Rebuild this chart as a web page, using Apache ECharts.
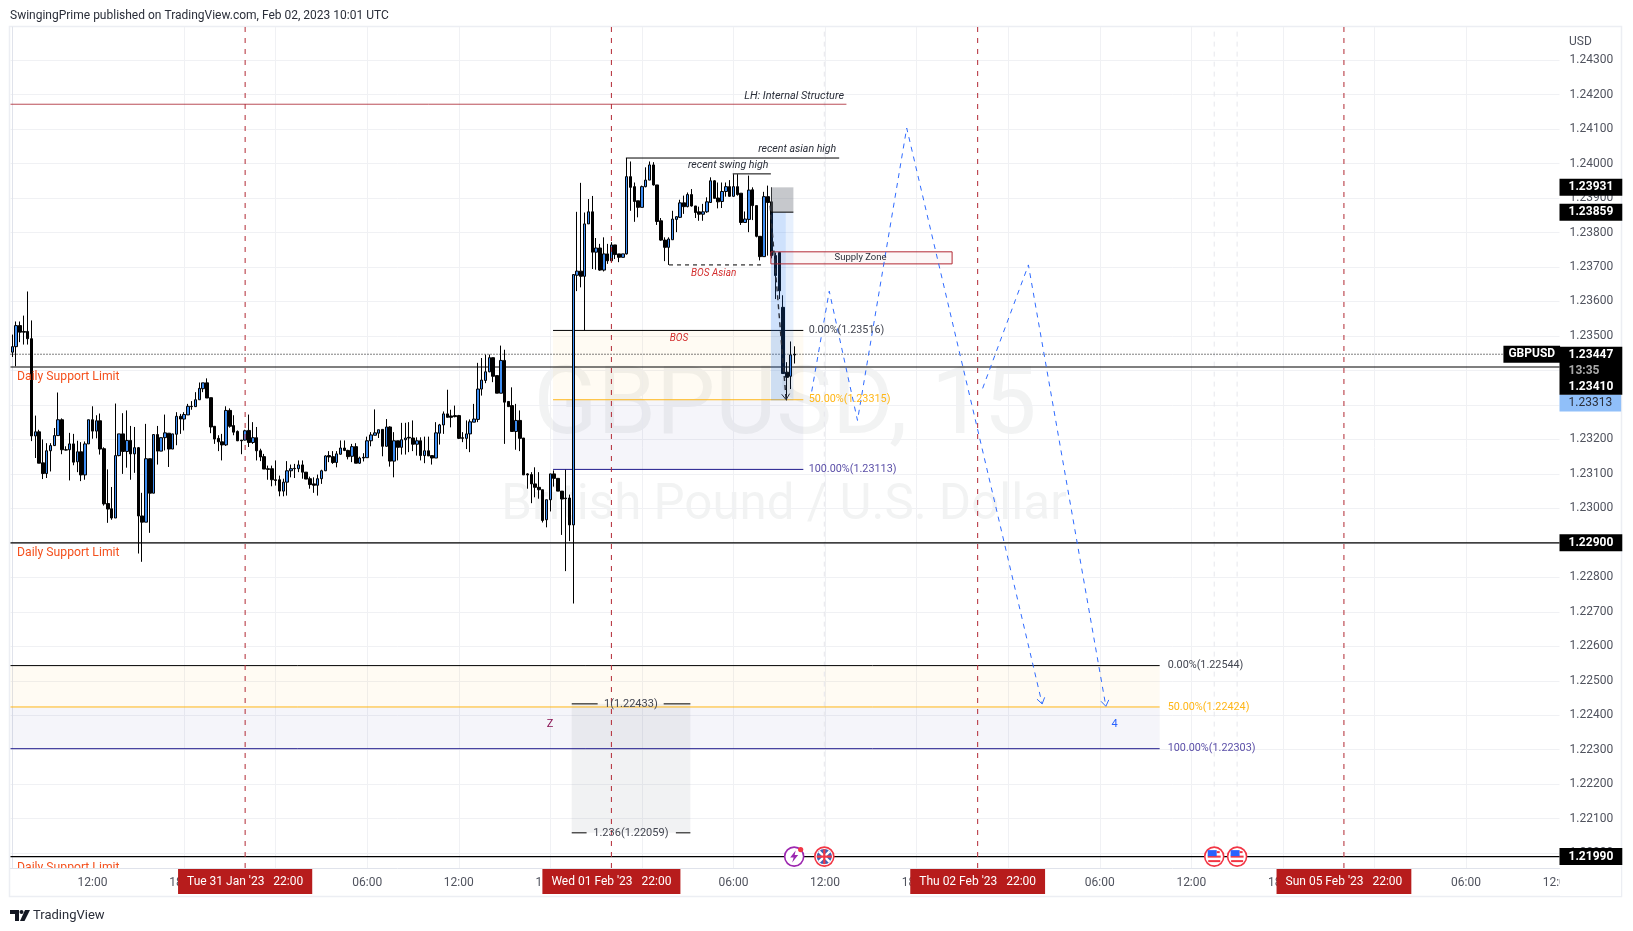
<!DOCTYPE html>
<html><head><meta charset="utf-8">
<style>html,body{margin:0;padding:0;background:#fff}#c{width:1633px;height:931px}</style>
<script src="https://cdn.jsdelivr.net/npm/echarts@6/dist/echarts.min.js"></script>
</head><body><div id="c"></div>
<script>
// ---- candle values, GBPUSD 15m (oldest first) ----
const opens = [1.23453,1.23469,1.23530,1.23513,1.23513,1.23492,1.23210,1.23222,1.23132,1.23101,
1.23167,1.23182,1.23211,1.23257,1.23170,1.23170,1.23187,1.23135,1.23164,1.23097,
1.23187,1.23257,1.23224,1.23254,1.23173,1.23014,1.22999,1.22972,1.23153,1.23216,
1.23165,1.23197,1.23158,1.23176,1.22978,1.22960,1.23144,1.23044,1.23214,1.23166,
1.23205,1.23218,1.23172,1.23215,1.23267,1.23259,1.23271,1.23296,1.23295,1.23315,
1.23347,1.23364,1.23321,1.23238,1.23203,1.23193,1.23184,1.23284,1.23240,1.23223,
1.23198,1.23198,1.23226,1.23191,1.23205,1.23167,1.23150,1.23115,1.23115,1.23083,
1.23083,1.23050,1.23076,1.23109,1.23116,1.23115,1.23126,1.23105,1.23086,1.23071,
1.23067,1.23086,1.23109,1.23153,1.23150,1.23133,1.23157,1.23175,1.23168,1.23151,
1.23179,1.23131,1.23148,1.23147,1.23196,1.23212,1.23218,1.23229,1.23180,1.23236,
1.23137,1.23196,1.23177,1.23199,1.23206,1.23204,1.23186,1.23196,1.23153,1.23167,
1.23153,1.23146,1.23218,1.23242,1.23274,1.23268,1.23269,1.23269,1.23205,1.23203,
1.23216,1.23250,1.23258,1.23346,1.23371,1.23396,1.23437,1.23385,1.23334,1.23429,
1.23310,1.23298,1.23223,1.23255,1.23204,1.23100,1.23098,1.23071,1.23061,1.23054,
1.22967,1.23025,1.23100,1.23087,1.23050,1.23030,1.23030,1.22952,1.23676,1.23688,
1.23673,1.23825,1.23860,1.23743,1.23755,1.23691,1.23738,1.23718,1.23764,1.23738,
1.23728,1.23738,1.23962,1.23933,1.23892,1.23873,1.23933,1.23952,1.23996,1.23938,
1.23834,1.23778,1.23757,1.23779,1.23838,1.23844,1.23886,1.23875,1.23910,1.23877,
1.23860,1.23853,1.23860,1.23887,1.23950,1.23900,1.23890,1.23919,1.23933,1.23905,
1.23933,1.23914,1.23829,1.23838,1.23924,1.23878,1.23789,1.23730,1.23904,1.23889,
1.23733,1.23742,1.23583,1.23395,1.23383,1.23445];
const closes = [1.23469,1.23530,1.23511,1.23511,1.23492,1.23210,1.23222,1.23131,1.23101,1.23167,
1.23182,1.23211,1.23257,1.23170,1.23169,1.23187,1.23134,1.23164,1.23097,1.23187,
1.23257,1.23224,1.23254,1.23172,1.23013,1.22998,1.22972,1.23153,1.23216,1.23165,
1.23197,1.23158,1.23176,1.22978,1.22960,1.23144,1.23044,1.23214,1.23166,1.23205,
1.23219,1.23172,1.23216,1.23267,1.23259,1.23272,1.23296,1.23295,1.23315,1.23348,
1.23364,1.23320,1.23236,1.23201,1.23193,1.23184,1.23284,1.23238,1.23221,1.23196,
1.23196,1.23225,1.23191,1.23205,1.23167,1.23149,1.23114,1.23113,1.23083,1.23081,
1.23050,1.23076,1.23109,1.23115,1.23115,1.23126,1.23105,1.23085,1.23069,1.23067,
1.23086,1.23109,1.23152,1.23149,1.23133,1.23158,1.23175,1.23168,1.23150,1.23179,
1.23131,1.23146,1.23146,1.23196,1.23213,1.23219,1.23228,1.23180,1.23236,1.23137,
1.23196,1.23177,1.23199,1.23204,1.23204,1.23186,1.23196,1.23153,1.23167,1.23152,
1.23146,1.23219,1.23242,1.23274,1.23264,1.23264,1.23266,1.23203,1.23203,1.23216,
1.23251,1.23259,1.23346,1.23372,1.23396,1.23437,1.23383,1.23334,1.23429,1.23308,
1.23295,1.23223,1.23255,1.23203,1.23097,1.23097,1.23071,1.23061,1.23054,1.22965,
1.23025,1.23100,1.23087,1.23050,1.23027,1.23028,1.22952,1.23678,1.23688,1.23673,
1.23825,1.23860,1.23743,1.23755,1.23691,1.23738,1.23718,1.23764,1.23736,1.23728,
1.23738,1.23962,1.23931,1.23890,1.23873,1.23933,1.23952,1.23996,1.23938,1.23832,
1.23778,1.23757,1.23781,1.23839,1.23846,1.23886,1.23875,1.23910,1.23877,1.23858,
1.23853,1.23860,1.23889,1.23950,1.23899,1.23889,1.23919,1.23933,1.23905,1.23933,
1.23910,1.23829,1.23839,1.23923,1.23878,1.23789,1.23730,1.23904,1.23887,1.23733,
1.23675,1.23631,1.23391,1.23380,1.23445,1.23447];
const lows = [1.23439,1.23412,1.23482,1.23475,1.23475,1.23195,1.23146,1.23131,1.23085,1.23088,
1.23107,1.23181,1.23210,1.23157,1.23168,1.23081,1.23125,1.23105,1.23079,1.23083,
1.23187,1.23202,1.23203,1.23156,1.23008,1.22958,1.22967,1.22972,1.23151,1.23100,
1.23118,1.23083,1.23103,1.22869,1.22845,1.22960,1.22929,1.23044,1.23127,1.23166,
1.23168,1.23120,1.23172,1.23183,1.23216,1.23226,1.23271,1.23286,1.23294,1.23315,
1.23337,1.23320,1.23218,1.23187,1.23166,1.23139,1.23181,1.23234,1.23212,1.23195,
1.23157,1.23197,1.23178,1.23187,1.23139,1.23137,1.23114,1.23083,1.23064,1.23066,
1.23035,1.23035,1.23037,1.23090,1.23088,1.23105,1.23086,1.23085,1.23057,1.23045,
1.23037,1.23071,1.23108,1.23134,1.23129,1.23119,1.23156,1.23166,1.23142,1.23134,
1.23131,1.23129,1.23136,1.23147,1.23180,1.23212,1.23204,1.23151,1.23179,1.23121,
1.23090,1.23139,1.23156,1.23156,1.23163,1.23166,1.23153,1.23139,1.23131,1.23152,
1.23127,1.23146,1.23185,1.23216,1.23264,1.23235,1.23264,1.23201,1.23192,1.23172,
1.23163,1.23250,1.23250,1.23327,1.23363,1.23395,1.23366,1.23334,1.23334,1.23187,
1.23295,1.23223,1.23170,1.23166,1.23097,1.23057,1.23015,1.23032,1.23028,1.22959,
1.22945,1.22991,1.23063,1.23050,1.22923,1.22818,1.22905,1.22724,1.23630,1.23641,
1.23516,1.23825,1.23694,1.23692,1.23689,1.23687,1.23709,1.23714,1.23723,1.23714,
1.23728,1.23736,1.23863,1.23831,1.23844,1.23873,1.23931,1.23952,1.23936,1.23822,
1.23776,1.23717,1.23706,1.23779,1.23801,1.23842,1.23854,1.23873,1.23875,1.23842,
1.23834,1.23834,1.23857,1.23887,1.23899,1.23870,1.23871,1.23904,1.23904,1.23904,
1.23907,1.23822,1.23829,1.23801,1.23836,1.23786,1.23719,1.23730,1.23733,1.23725,
1.23607,1.23607,1.23391,1.23313,1.23346,1.23420];
const highs = [1.23504,1.23542,1.23542,1.23559,1.23629,1.23545,1.23269,1.23228,1.23200,1.23189,
1.23189,1.23233,1.23336,1.23261,1.23180,1.23219,1.23216,1.23196,1.23192,1.23194,
1.23257,1.23296,1.23270,1.23275,1.23177,1.23113,1.23062,1.23304,1.23216,1.23276,
1.23284,1.23239,1.23236,1.23178,1.23045,1.23245,1.23144,1.23214,1.23239,1.23205,
1.23272,1.23218,1.23216,1.23279,1.23274,1.23279,1.23303,1.23311,1.23337,1.23365,
1.23364,1.23377,1.23321,1.23238,1.23212,1.23216,1.23296,1.23290,1.23270,1.23226,
1.23198,1.23228,1.23272,1.23250,1.23236,1.23173,1.23158,1.23124,1.23124,1.23139,
1.23095,1.23086,1.23137,1.23127,1.23129,1.23139,1.23139,1.23105,1.23092,1.23090,
1.23098,1.23112,1.23154,1.23166,1.23166,1.23166,1.23197,1.23197,1.23170,1.23187,
1.23189,1.23150,1.23160,1.23208,1.23221,1.23287,1.23228,1.23229,1.23259,1.23238,
1.23221,1.23196,1.23248,1.23248,1.23250,1.23255,1.23206,1.23206,1.23208,1.23208,
1.23153,1.23250,1.23245,1.23281,1.23344,1.23286,1.23298,1.23271,1.23221,1.23255,
1.23258,1.23303,1.23422,1.23436,1.23446,1.23446,1.23437,1.23385,1.23472,1.23460,
1.23310,1.23351,1.23303,1.23284,1.23204,1.23102,1.23105,1.23119,1.23105,1.23054,
1.23025,1.23100,1.23110,1.23087,1.23050,1.23112,1.23040,1.23678,1.23860,1.23944,
1.23858,1.23897,1.23906,1.23784,1.23767,1.23786,1.23767,1.23772,1.23764,1.23738,
1.23738,1.24016,1.24006,1.23945,1.23892,1.23936,1.23989,1.24006,1.24004,1.23938,
1.23842,1.23786,1.23786,1.23863,1.23846,1.23895,1.23907,1.23916,1.23926,1.23877,
1.23875,1.23883,1.23902,1.23960,1.23952,1.23945,1.23945,1.23945,1.23952,1.23969,
1.23969,1.23914,1.23861,1.23965,1.23931,1.23878,1.23789,1.23918,1.23936,1.23931,
1.23742,1.23742,1.23618,1.23424,1.23484,1.23470];

// ---- axes ----
const barCount = 406;            // slots on the time axis, including empty future bars
const firstBarMinutes = 6*60+45; // first bar 06:45
const labelEvery = 24, labelPhase = 21; // a time label every 6h, 12:00 is slot 21
const priceTicks = [1.22,1.221,1.222,1.223,1.224,1.225,1.226,1.227,1.228,1.229,1.23,1.231,1.232,1.233,1.234,1.235,1.236,1.237,1.238,1.239,1.24,1.241,1.242,1.243];
const priceMin = 1.21957, priceMax = 1.24396;

// ---- drawings: bar position / price ----
const sessionBars = [61,157,253,349];
const sessionLabels = ["Tue 31 Jan '23   22:00","Wed 01 Feb '23   22:00","Thu 02 Feb '23   22:00","Sun 05 Feb '23   22:00"];
const eventBars = [212.8,315,321];
const L = -0.5, R = 405.5;
const C = {black:'#000',orange:'#ffb617',navy:'#1f1a8c',red:'#a81f2c',blue:'#2f6bff',ink:'#2a2e39'};
// name, points [bar,price], colour, width, dash, z
const drawings = [
 ['resist 1',[[L,1.2341],[R,1.2341]],C.black,1.1,null,2],
 ['resist 2',[[L,1.229],[R,1.229]],C.black,1.1,null,2],
 ['resist 3',[[L,1.2199],[R,1.2199]],C.black,1.1,null,2],
 ['last',[[L,1.23447],[R,1.23447]],C.black,1,[1,2],2],
 ['LH',[[L,1.24172],[218.6,1.24172]],C.red,0.8,null,2],
 ['asian high',[[160.8,1.24016],[216.7,1.24016]],C.black,1,null,2],
 ['swing high',[[188.8,1.2397],[198.8,1.2397]],C.black,1,null,2],
 ['BOS asian',[[172.1,1.23706],[196.3,1.23706]],C.black,1,[4,4],2],
 ['fib1 0',[[141.7,1.23516],[207.3,1.23516]],C.black,1,null,2],
 ['fib1 50',[[141.7,1.23315],[207.3,1.23315]],C.orange,1,null,2],
 ['fib1 100',[[141.7,1.23113],[207.3,1.23113]],C.navy,1,null,2],
 ['fib2 0',[[L,1.22544],[300.7,1.22544]],C.black,1,null,2],
 ['fib2 50',[[L,1.22424],[300.7,1.22424]],C.orange,1,null,2],
 ['fib2 100',[[L,1.22303],[300.7,1.22303]],C.navy,1,null,2],
 ['ext a1',[[146.6,1.22433],[153.4,1.22433]],C.black,1,null,3],
 ['ext a2',[[170.7,1.22433],[177.7,1.22433]],C.black,1,null,3],
 ['ext b1',[[146.6,1.22059],[150.5,1.22059]],C.black,1,null,3],
 ['ext b2',[[173.9,1.22059],[177.7,1.22059]],C.black,1,null,3],
 ['box edge',[[198.8,1.23859],[204.7,1.23859]],C.black,1,null,4],
 ['swing drop',[[198.6,1.23878],[202.8,1.23315]],'#2a2e39',1.4,[5,4],5],
 ['path one',[[209.5,1.23339],[214.1,1.2363],[221.5,1.23255],[234.4,1.24103],[269.9,1.22433]],C.blue,1,[5,5],5],
 ['path two',[[254.3,1.23348],[266.3,1.23706],[286.6,1.22426]],C.blue,1,[5,5],5]
];
// arrow heads at the end of the last segment of three drawings
const arrows = [[198.6,1.23878,202.8,1.23315,'#2a2e39'],[234.4,1.24103,269.9,1.22433,C.blue],[266.3,1.23706,286.6,1.22426,C.blue]];
// zones: x0,x1,price0,price1 + fill, stroke
const zonesBack = [
 [L,300.7,1.22544,1.22424,'rgba(255,182,23,0.05)',null],
 [L,300.7,1.22424,1.22303,'rgba(31,26,140,0.045)',null],
 [141.7,207.3,1.23516,1.23315,'rgba(255,182,23,0.05)',null],
 [141.7,207.3,1.23315,1.23113,'rgba(31,26,140,0.045)',null],
 [146.6,177.7,1.22433,1.22059,'rgba(120,123,134,0.10)',null]
];
const zonesFront = [
 [198.8,204.7,1.23931,1.23859,'rgba(120,123,134,0.42)',null],
 [198.8,202.7,1.23859,1.23313,'rgba(33,120,240,0.22)',null],
 [202.7,204.7,1.23859,1.23313,'rgba(33,120,240,0.11)',null],
 [198.8,246.3,1.23744,1.23709,'rgba(178,40,51,0.04)','#b22833']
];
const events = [[204.9,1.2199,'bolt'],[212.8,1.2199,'uk'],[315,1.2199,'us'],[321,1.2199,'us']];
const italic = {fontStyle:'italic',fontSize:10.6,color:'#2a2e39',fontFamily:'Roboto'};
const redItalic = {fontStyle:'italic',fontSize:10,color:'#d32f2f',fontFamily:'Roboto'};
const fibText = {fontSize:10.8,color:'#434651',fontFamily:'Roboto'};
// bar, price, text, anchor, style
const notes = [
 [204.9,1.24194,'LH: Internal Structure','inside',{...italic,fontSize:10.9}],
 [205.7,1.2404,'recent asian high','inside',italic],
 [187.6,1.23994,'recent swing high','inside',italic],
 [183.8,1.23681,'BOS Asian','inside',redItalic],
 [174.7,1.23492,'BOS','inside',redItalic],
 [222.3,1.237265,'Supply Zone','inside',{fontSize:9.5,color:'#2a2e39',fontFamily:'Roboto'}],
 [208.7,1.23516,'0.00%(1.23516)','right',fibText],
 [208.7,1.23315,'50.00%(1.23315)','right',{...fibText,color:'#ffb617'}],
 [208.7,1.23113,'100.00%(1.23113)','right',{...fibText,color:'#5b4fa8'}],
 [302.8,1.22544,'0.00%(1.22544)','right',fibText],
 [302.8,1.22424,'50.00%(1.22424)','right',{...fibText,color:'#ffb617'}],
 [302.8,1.22303,'100.00%(1.22303)','right',{...fibText,color:'#5b4fa8'}],
 [162.1,1.22433,'1(1.22433)','inside',{...fibText,fontSize:11}],
 [162.1,1.22059,'1.236(1.22059)','inside',{...fibText,fontSize:11}],
 [140.9,1.22375,'Z','inside',{fontSize:11,color:'#880e4f',fontFamily:'Roboto'}],
 [288.9,1.22375,'4','inside',{fontSize:11,color:'#2962ff',fontFamily:'Roboto'}]
];
const supportLabels = [[1.23382,'Daily Support Limit'],[1.22872,'Daily Support Limit'],[1.21958,'Daily Support Limit']];
// axis price tags
const tagFont = {fontFamily:'Roboto',fontSize:12,fontWeight:'bold',color:'#fff',backgroundColor:'#000',padding:[3,9,2,9]};
const priceTags = [
 [1.23931,'1.23931',tagFont],
 [1.23859,'1.23859',tagFont],
 [1.229,'1.22900',tagFont],
 [1.2199,'1.21990',tagFont],
 [1.23313,'1.23313',{...tagFont,fontWeight:'normal',color:'#2a2e39',backgroundColor:'#90bff9',offset:[0,2.5]}],
 [1.23447,'{a|1.23447}\n{b|13:35}\n{a|1.23410}',{...tagFont,offset:[0,16.4],padding:[0,9,0,9],rich:{a:{fontFamily:'Roboto',fontSize:12,fontWeight:'bold',color:'#fff',lineHeight:16},b:{fontFamily:'Roboto',fontSize:12,color:'#aaa',lineHeight:16}}}]
];
const symbolTag = [390.8,1.23447,'GBPUSD'];

const times = Array.from({length:barCount},(_,i)=>{const m=(firstBarMinutes+15*i)%1440;return String(Math.floor(m/60)).padStart(2,'0')+':'+String(m%60).padStart(2,'0');});
const showTime = i => i%labelEvery===labelPhase;
const gridCol = '#f0f1f4', axisCol = '#e0e3eb', labelCol = '#50535e', sans = 'Roboto';

const lineSeries = drawings.map(d=>({name:d[0],type:'line',xAxisIndex:1,yAxisIndex:0,data:d[1],showSymbol:false,symbol:'none',silent:true,animation:false,z:d[5],clip:true,lineStyle:{color:d[2],width:d[3],type:d[4]||'solid'}}));
const sessionSeries = sessionBars.map((b,i)=>({name:'session '+i,type:'line',xAxisIndex:1,yAxisIndex:0,data:[[b,priceMin],[b,priceMax]],showSymbol:false,symbol:'none',silent:true,animation:false,z:3,lineStyle:{color:'#b22833',width:1,type:[5,6]}}));
const eventLines = eventBars.map((b,i)=>({name:'event '+i,type:'line',xAxisIndex:1,yAxisIndex:0,data:[[b,1.2199],[b,priceMax]],showSymbol:false,symbol:'none',silent:true,animation:false,z:1,lineStyle:{color:'#e6e7ec',width:1,type:[5,5]}}));

function zoneSeries(list,z){return {type:'custom',xAxisIndex:1,yAxisIndex:0,z,silent:true,animation:false,clip:true,encode:{x:[0,1],y:[2,3]},
 data:list.map(r=>r.slice(0,4)),
 renderItem(p,api){const a=api.coord([api.value(0),api.value(2)]),b=api.coord([api.value(1),api.value(3)]);const r=list[p.dataIndex];
  return {type:'rect',shape:{x:a[0],y:a[1],width:b[0]-a[0],height:b[1]-a[1]},style:{fill:r[4],stroke:r[5]||null,lineWidth:1}};}};}

const iconSeries = {type:'custom',xAxisIndex:1,yAxisIndex:0,z:6,silent:true,animation:false,clip:false,encode:{x:0,y:1},
 data:events.map(e=>e.slice(0,2)),
 renderItem(p,api){const c=api.coord([api.value(0),api.value(1)]);const kind=events[p.dataIndex][2];const ring=kind==='bolt'?'#9c27b0':'#f23645';
  const kids=[{type:'circle',shape:{cx:0,cy:0,r:9.5},style:{fill:'#fff',stroke:ring,lineWidth:1.6}}];
  if(kind==='bolt'){kids.push({type:'polygon',shape:{points:[[1.5,-6],[-4,1],[-0.5,1],[-2,6],[4,-1.5],[0.5,-1.5]]},style:{fill:'#9c27b0'}});
   kids.push({type:'circle',shape:{cx:6.5,cy:-7,r:2.6},style:{fill:'#f23645'}});}
  if(kind==='uk'){kids.push({type:'circle',shape:{cx:0,cy:0,r:7.5},style:{fill:'#3f62b5'}});
   kids.push({type:'line',shape:{x1:-5.3,y1:-5.3,x2:5.3,y2:5.3},style:{stroke:'#fff',lineWidth:2.4}});
   kids.push({type:'line',shape:{x1:-5.3,y1:5.3,x2:5.3,y2:-5.3},style:{stroke:'#fff',lineWidth:2.4}});
   kids.push({type:'line',shape:{x1:-7.5,y1:0,x2:7.5,y2:0},style:{stroke:'#f23645',lineWidth:2.2}});
   kids.push({type:'line',shape:{x1:0,y1:-7.5,x2:0,y2:7.5},style:{stroke:'#f23645',lineWidth:2.2}});}
  if(kind==='us'){kids.push({type:'rect',shape:{x:-6.5,y:-1,width:13,height:2},style:{fill:'#f23645'}});
   kids.push({type:'rect',shape:{x:-6,y:3.5,width:12,height:2},style:{fill:'#f23645'}});
   kids.push({type:'rect',shape:{x:-6.5,y:-6.5,width:9,height:6},style:{fill:'#2962ff'}});
   kids.push({type:'rect',shape:{x:2.5,y:-5.5,width:3,height:2},style:{fill:'#f23645'}});}
  return {type:'group',x:c[0],y:c[1],children:kids};}};

const arrowSeries = {type:'custom',xAxisIndex:1,yAxisIndex:0,z:5,silent:true,animation:false,encode:{x:[0,2],y:[1,3]},
 data:arrows.map(a=>a.slice(0,4)),
 renderItem(p,api){const a=api.coord([api.value(0),api.value(1)]),b=api.coord([api.value(2),api.value(3)]);const t=Math.atan2(b[1]-a[1],b[0]-a[0]),s=7,w=0.6;const col=arrows[p.dataIndex][4];
  const pt=o=>[b[0]-s*Math.cos(t+o),b[1]-s*Math.sin(t+o)];
  return {type:'polyline',shape:{points:[pt(w),b,pt(-w)]},style:{stroke:col,lineWidth:1,fill:null}};}};

const supportSeries = {type:'custom',xAxisIndex:1,yAxisIndex:0,z:4,silent:true,animation:false,encode:{y:0},
 data:supportLabels.map(s=>[s[0]]),
 renderItem(p,api){const y=api.coord([0,api.value(0)])[1];const cs=p.coordSys;
  return {type:'text',x:17,y,clipPath:{type:'rect',shape:{x:cs.x-17,y:cs.y-y,width:cs.width,height:cs.height}},
   style:{text:supportLabels[p.dataIndex][1],font:'12.2px '+sans,fill:'#f4511e',textVerticalAlign:'middle'}};}};

const solid = {opacity:1};
const noteSeries = {type:'scatter',xAxisIndex:1,yAxisIndex:0,symbolSize:0,silent:true,animation:false,z:7,clip:false,itemStyle:solid,
 data:notes.map(n=>({value:[n[0],n[1]],label:{show:true,position:n[3],distance:0,formatter:n[2],...n[4]}}))};
const tagSeries = {type:'scatter',xAxisIndex:1,yAxisIndex:0,symbolSize:0,silent:true,animation:false,z:8,clip:false,itemStyle:solid,
 data:priceTags.map(t=>({value:[R,t[0]],label:{show:true,position:'right',distance:0,formatter:t[1],...t[2]}}))
  .concat([{value:[symbolTag[0],symbolTag[1]],label:{show:true,position:'right',distance:0,formatter:symbolTag[2],fontFamily:sans,fontSize:12,fontWeight:'bold',color:'#fff',backgroundColor:'#000',padding:[3,5,2,5]}}])};
const dateSeries = {type:'scatter',xAxisIndex:1,yAxisIndex:0,symbolSize:0,silent:true,animation:false,z:9,clip:false,itemStyle:solid,
 data:sessionBars.map((b,i)=>({value:[b,priceMin],label:{show:true,position:'bottom',distance:1,formatter:sessionLabels[i],fontFamily:sans,fontSize:12,color:'#fff',backgroundColor:'#b71c1c',padding:[7,9,6,9]}}))};

const chart = echarts.init(document.getElementById('c'),null,{renderer:'canvas'});
chart.setOption({
 animation:false,backgroundColor:'#fff',
 title:{text:'SwingingPrime published on TradingView.com, Feb 02, 2023 10:01 UTC',left:5,top:5,textStyle:{fontFamily:sans,fontSize:12,fontWeight:'normal',color:'#2a2e39'}},
 grid:{left:10.5,top:27,width:1549,height:841,containLabel:false},
 xAxis:[
  {type:'category',data:times,boundaryGap:true,axisTick:{show:false},axisLine:{lineStyle:{color:axisCol}},
   axisLabel:{interval:(i)=>showTime(i),margin:9,color:labelCol,fontFamily:sans,fontSize:12,hideOverlap:false,showMaxLabel:true},
   splitLine:{show:true,alignWithLabel:true,showMinLine:false,showMaxLine:false,interval:(i)=>showTime(i),lineStyle:{color:gridCol,width:1}}},
  {type:'value',min:L,max:R,show:false,splitLine:{show:false}}
 ],
 yAxis:{type:'value',position:'right',min:priceMin,max:priceMax,scale:true,
  axisLine:{show:true,lineStyle:{color:axisCol}},axisTick:{show:false,customValues:priceTicks},
  axisLabel:{customValues:priceTicks,margin:10,padding:[2,0,0,0],color:labelCol,fontFamily:sans,fontSize:12,formatter:v=>v.toFixed(5),showMinLabel:true,showMaxLabel:true},
  splitLine:{show:true,lineStyle:{color:gridCol,width:1}}},
 graphic:[
  {type:'rect',z:-1,shape:{x:9.5,y:26.5,width:1612,height:870},style:{fill:'none',stroke:'#eceef3',lineWidth:1.5}},
  {type:'text',z:0,x:785,y:409,style:{text:'GBPUSD, 15',font:'94px Roboto',fill:'rgba(42,46,57,0.06)',textAlign:'center',textVerticalAlign:'middle'}},
  {type:'text',z:0,x:784,y:507,style:{text:'British Pound / U.S. Dollar',font:'49.3px Roboto',fill:'rgba(42,46,57,0.06)',textAlign:'center',textVerticalAlign:'middle'}},
  {type:'rect',z:1,shape:{x:1560,y:869,width:61,height:27},style:{fill:'#fff'}},
  {type:'text',z:2,x:1569,y:42,style:{text:'USD',font:'12px Roboto',fill:'#50535e',textVerticalAlign:'middle'}},
  {type:'polygon',z:2,shape:{points:[[10,910],[19,910],[19,921],[15,921],[15,914],[10,914]]},style:{fill:'#131722'}},
  {type:'circle',z:2,shape:{cx:21.5,cy:912,r:2},style:{fill:'#131722'}},
  {type:'polygon',z:2,shape:{points:[[25,910],[30,910],[24.5,921],[20,921]]},style:{fill:'#131722'}},
  {type:'text',z:2,x:33,y:916,style:{text:'TradingView',font:'13px Roboto',fill:'#2a2e39',textVerticalAlign:'middle'}}
 ],
 series:[
  zoneSeries(zonesBack,1),
  ...eventLines,
  {name:'GBPUSD',type:'candlestick',xAxisIndex:0,yAxisIndex:0,z:2,barWidth:3,silent:true,animation:false,clip:true,
   data:opens.map((o,i)=>[o,closes[i],lows[i],highs[i]]),
   itemStyle:{color:'#3d8df2',color0:'#000',borderColor:'#000',borderColor0:'#000',borderWidth:1}},
  ...lineSeries,...sessionSeries,
  zoneSeries(zonesFront,4),
  arrowSeries,supportSeries,iconSeries,noteSeries,tagSeries,dateSeries
 ]
});
</script></body></html>
